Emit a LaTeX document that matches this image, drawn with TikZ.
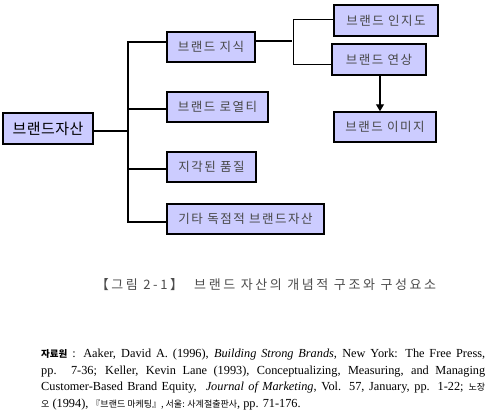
\documentclass[tikz,border=0pt]{standalone}
\usepackage{fontspec}
\setmainfont{Liberation Serif}
\newfontfamily\kr{Noto Sans CJK KR}
\usetikzlibrary{arrows.meta}
\definecolor{boxfill}{HTML}{CCCCFF}
\newcommand\K[1]{{\kr\fontsize{9}{16.5}\selectfont #1}}
\begin{document}
\begin{tikzpicture}[x=1pt,y=-1pt,
  bx/.style={draw=black, line width=1.5pt, fill=boxfill, minimum height=30pt, inner xsep=5pt,
    font=\kr\fontsize{12.5}{14}\selectfont\addfontfeature{LetterSpace=12}, text=black!72},
  ln/.style={line width=1.3pt},
  thinln/.style={line width=0.7pt}]
\useasboundingbox[fill=white] (0,0) rectangle (490,415);
% boxes
\node[bx, minimum width=90pt, minimum height=31pt, font=\kr\fontsize{15}{16}\selectfont\addfontfeature{LetterSpace=3}, text=black] (root) at (48,128.5) {브랜드자산};
\node[bx, minimum width=88pt] (jisik) at (211,47) {브랜드 지식};
\node[bx, minimum width=101pt] (loyal) at (217.5,107) {브랜드 로열티};
\node[bx, minimum width=89pt] (qual) at (211.5,167) {지각된 품질};
\node[bx, minimum width=157pt] (other) at (245.5,219) {기타 독점적 브랜드자산};
\node[bx, minimum width=104pt, minimum height=31pt] (aware) at (386,20.5) {브랜드 인지도};
\node[bx, minimum width=94pt, minimum height=31pt] (assoc) at (379,59.5) {브랜드 연상};
\node[bx, minimum width=102pt] (image) at (385,127) {브랜드 이미지};
% left tree
\coordinate (rj) at (128,131);
\coordinate (tT) at (128,42);
\coordinate (tB) at (128,222);
\coordinate (t2) at (128,109);
\coordinate (t3) at (128,169);
\draw[ln] (root.east |- rj) -- (rj);
\draw[ln] (jisik.west |- tT) -- (tT) -- (tB) -- (other.west |- tB);
\draw[ln] (t2) -- (loyal.west |- t2);
\draw[ln] (t3) -- (qual.west |- t3);
% right bracket
\coordinate (bj) at (292,41);
\coordinate (bT) at (293,19);
\coordinate (bB) at (293,64);
\draw[ln] (jisik.east |- bj) -- (bj);
\draw[thinln] (aware.west |- bT) -- (bT) -- (bB) -- (assoc.west |- bB);
\coordinate (ax) at (380,0);
\draw[ln, -{Triangle[length=7pt,width=8pt]}] (assoc.south -| ax) -- (image.north -| ax);
% caption
\node[font=\kr\fontsize{13}{14}\selectfont\addfontfeature{LetterSpace=20}, text=black!70] (cap) at (266,285) {【그림 2-1】\ \ 브랜드 자산의 개념적 구조와 구성요소};
% source
\node[anchor=north west, text width=444pt, align=justify, inner sep=0pt, font=\fontsize{12.3}{16.5}\selectfont] (src) at (41,349)
{{\kr\fontsize{9.5}{16.5}\selectfont\bfseries 자료원} : Aaker, David A. (1996), \textit{Building Strong Brands}, New York: The Free Press,\linebreak
pp. 7-36; Keller, Kevin Lane (1993), Conceptualizing, Measuring, and Managing\linebreak
Customer-Based Brand Equity, \ \textit{Journal of Marketing}, Vol. 57, January, pp. 1-22; \K{노장}\linebreak
\K{오} (1994), \K{『브랜드 마케팅』, 서울: 사계절출판사}, pp. 71-176.};
\end{tikzpicture}
\end{document}
